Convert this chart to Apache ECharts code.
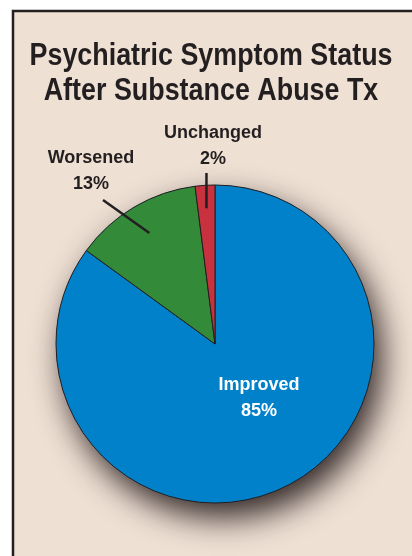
<!DOCTYPE html>
<html><head><meta charset="utf-8">
<script src="https://cdn.jsdelivr.net/npm/echarts@6/dist/echarts.min.js"></script>
<style>html,body{margin:0;padding:0;background:#fff}#c{width:412px;height:556px}</style>
</head><body><div id="c"></div>
<script>
const categories = ['Improved', 'Worsened', 'Unchanged'];
const values = [85, 13, 2];
const colors = ['#0081c9', '#338a38', '#c8313e'];
const titleLines = ['Psychiatric Symptom Status', 'After Substance Abuse Tx'];

const FONT = "'Liberation Sans','Arial',sans-serif";
const INK = '#231f20';
const CENTER = [215, 344];
const R = 159;

// label placement (layout only)
const labelSpots = {
  0: {x: 259, y: 398},
  1: {x: 91, y: 171, lineStartR: 129, lineEnd: [103, 200]},
  2: {x: 213, y: 146, lineStartR: 136, lineEndY: 173}
};

const chart = echarts.init(document.getElementById('c'), null, {renderer: 'canvas'});

const mainData = categories.map((c, i) => ({
  name: c, value: values[i],
  itemStyle: {color: colors[i]},
  label: {show: i === 0}
}));
const overlayData = categories.map((c, i) => ({
  name: c, value: values[i],
  label: {show: i !== 0},
  labelLine: {show: i !== 0}
}));

function titleText(str, y) {
  return {
    type: 'text', z: 10, silent: true,
    x: 211, y: y, scaleX: 0.84, scaleY: 1,
    style: {text: str, fill: INK, font: "bold 32px " + FONT, align: 'center', verticalAlign: 'middle'}
  };
}

const labelText = {
  fontFamily: FONT, fontWeight: 'bold', fontSize: 18, lineHeight: 26, overflow: 'none',
  formatter: p => p.name + '\n' + p.value + '%'
};

function layoutLabel(p) {
  const s = labelSpots[p.dataIndex];
  const out = {x: s.x, y: s.y, align: 'center', verticalAlign: 'middle'};
  if (s.lineStartR && p.labelLinePoints && p.labelLinePoints.length) {
    const p0 = p.labelLinePoints[0];
    const k = s.lineStartR / R;
    const st = [CENTER[0] + (p0[0] - CENTER[0]) * k, CENTER[1] + (p0[1] - CENTER[1]) * k];
    const en = s.lineEnd ? s.lineEnd : [st[0], s.lineEndY];
    out.labelLinePoints = [st, [(st[0] + en[0]) / 2, (st[1] + en[1]) / 2], en];
  }
  return out;
}

chart.setOption({
  animation: false,
  backgroundColor: '#ffffff',
  graphic: [
    {
      type: 'rect', z: -10, silent: true,
      shape: {x: 13, y: 11, width: 430, height: 570},
      style: {fill: '#efe0d4', stroke: INK, lineWidth: 2.5}
    },
    titleText(titleLines[0], 56),
    titleText(titleLines[1], 91)
  ],
  series: [
    {
      type: 'pie', silent: true, z: 1,
      center: CENTER, radius: R,
      data: [{value: values.reduce((a, b) => a + b, 0)}],
      label: {show: false}, labelLine: {show: false},
      itemStyle: {color: colors[0], shadowBlur: 32, shadowColor: 'rgba(40,30,30,0.95)', shadowOffsetX: 8, shadowOffsetY: 15}
    },
    {
      type: 'pie', silent: true, z: 2,
      center: CENTER, radius: R, startAngle: 90, clockwise: true,
      data: mainData,
      itemStyle: {borderColor: INK, borderWidth: 1},
      label: Object.assign({position: 'inside', color: '#ffffff'}, labelText),
      labelLine: {show: false},
      labelLayout: layoutLabel
    },
    {
      type: 'pie', silent: true, z: 3,
      center: CENTER, radius: R, startAngle: 90, clockwise: true,
      data: overlayData,
      itemStyle: {color: 'rgba(0,0,0,0)', borderWidth: 0},
      label: Object.assign({position: 'outside', color: INK}, labelText),
      labelLine: {length: 30, length2: 0, smooth: false, lineStyle: {color: INK, width: 2.5}},
      labelLayout: layoutLabel
    }
  ]
});
</script>
</body></html>
